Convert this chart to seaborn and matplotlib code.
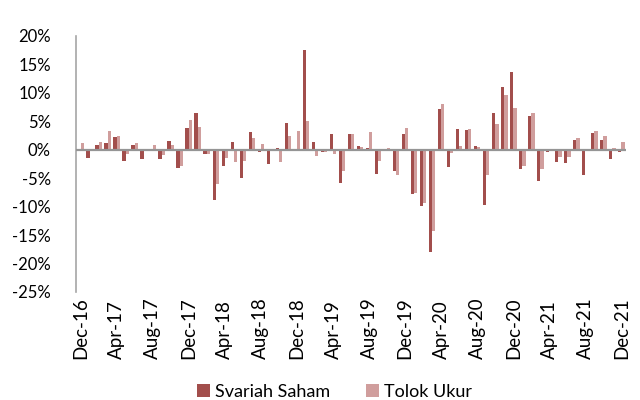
import numpy as np
import pandas as pd
import seaborn as sns
import matplotlib.pyplot as plt
from matplotlib.ticker import FuncFormatter

# Kinerja bulanan (%) Des-16 .. Des-21
bulan = pd.date_range('2016-12-01', periods=61, freq='MS').strftime('%b-%y').tolist()

svariah_saham = [-0.3, -1.5, 0.8, 1.2, 2.2, -1.9, 0.9, -1.6, 0.2, -1.6,
                 1.6, -3.2, 3.75, 6.5, -0.8, -8.9, -2.9, 1.35, -4.9, 3.2,
                 -0.4, -2.5, 0.35, 4.7, 0.1, 17.5, 1.3, -0.4, 2.8, -5.85,
                 2.8, 0.7, 0.35, -4.3, 0.05, -3.65, 2.75, -7.85, -9.9, -17.9,
                 7.25, -3.0, 3.65, 3.45, 0.65, -9.7, 6.4, 11.0, 13.75, -3.45,
                 6.0, -5.5, -0.35, -2.2, -2.35, 1.7, -4.4, 3.0, 1.7, -1.7,
                 -0.35]
tolok_ukur = [1.2, 0.2, 1.35, 3.3, 2.4, -0.8, 1.2, -0.2, 0.9, -1.0,
              0.9, -2.9, 5.3, 4.0, -0.8, -6.1, -1.4, -2.1, -2.05, 2.05,
              1.05, -0.2, -2.1, 2.35, 3.3, 5.1, -1.1, -0.4, -0.8, -3.8,
              2.7, 0.5, 3.2, -2.0, 0.25, -4.45, 3.75, -7.65, -9.3, -14.35,
              8.0, -0.65, 0.75, 3.6, 0.45, -4.45, 4.6, 9.7, 7.4, -2.8,
              6.4, -3.4, -0.05, -1.35, -1.35, 2.0, -0.05, 3.3, 2.35, 0.4,
              1.35]

nama_seri = ['Svariah Saham', 'Tolok Ukur']
warna = ['#B0413E', '#D99694']

df = pd.DataFrame({
    'bulan': bulan * 2,
    'seri': [nama_seri[0]] * len(bulan) + [nama_seri[1]] * len(bulan),
    'nilai': svariah_saham + tolok_ukur,
})

plt.rcParams['font.family'] = ['Lato', 'DejaVu Sans']

fig = plt.figure(figsize=(6.4, 4.0), dpi=100)
ax = fig.add_axes([76 / 640, 1 - 292 / 400, 550 / 640, 256 / 400])

sns.barplot(data=df, x='bulan', y='nilai', hue='seri', order=bulan,
            hue_order=nama_seri, palette=warna, width=0.72, gap=0,
            linewidth=0, ax=ax)

ax.set_ylim(-25, 20)
ax.set_xlim(-0.5, len(bulan) - 0.5)
ax.set_yticks(np.arange(-25, 21, 5))
ax.yaxis.set_major_formatter(FuncFormatter(lambda v, p: f'{v:.0f}%'))

# label tiap 4 bulan, rata bawah seperti di Excel
posisi = list(range(0, len(bulan), 4))
ax.set_xticks(posisi)
ax.set_xticklabels([bulan[i] for i in posisi], rotation=90, va='bottom', fontsize=13.5)

ax.tick_params(axis='both', length=0, colors='black')
ax.tick_params(axis='y', pad=18, labelsize=12)
ax.tick_params(axis='x', pad=48)
for t in ax.get_yticklabels():
    t.set_horizontalalignment('right')

for s in ['top', 'right', 'bottom']:
    ax.spines[s].set_visible(False)
ax.spines['left'].set_color('#a6a6a6')
ax.spines['left'].set_linewidth(1.2)
ax.axhline(0, color='#959595', lw=1.6, zorder=3)

ax.set_xlabel('')
ax.set_ylabel('')

ax.legend(loc='center', bbox_to_anchor=(0.523, 0.02), bbox_transform=fig.transFigure,
          ncol=2, frameon=False, fontsize=13, handlelength=0.7, handleheight=0.7,
          handletextpad=0.3, columnspacing=2.0)

fig.savefig('out.png', dpi=100)
